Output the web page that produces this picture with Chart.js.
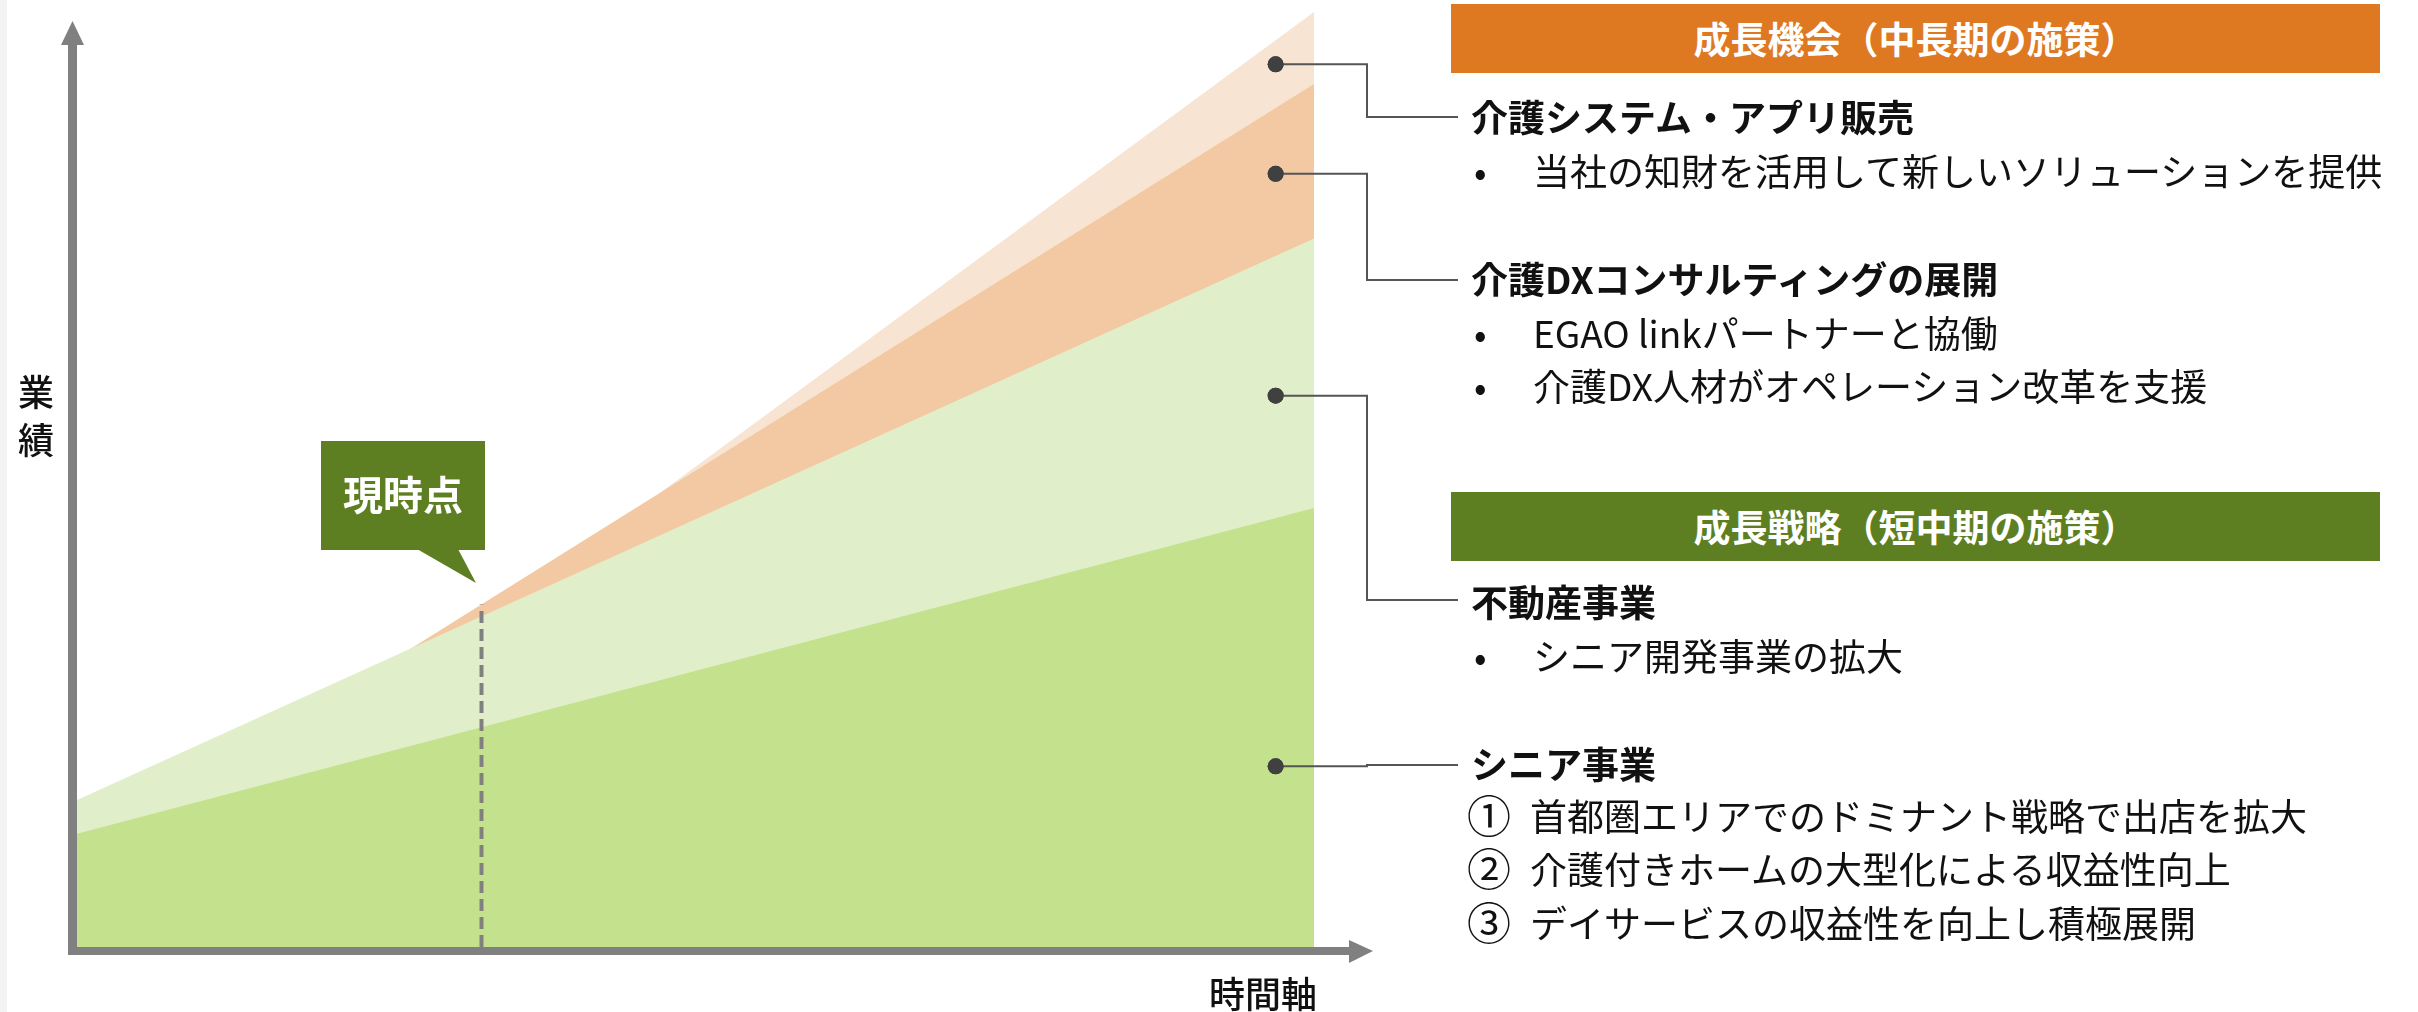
<!DOCTYPE html>
<html lang="ja">
<head>
<meta charset="utf-8">
<script src="https://cdn.jsdelivr.net/npm/chart.js@4.4.0/dist/chart.umd.min.js"></script>
<style>
  body { margin: 0; background: #fff; font-family: "Noto Sans CJK JP", sans-serif; }
  #wrap { position: relative; width: 2418px; height: 1012px; overflow: hidden; background: #fff; }
  #myChart { position: absolute; left: 0; top: 0; }
  .strip { position: absolute; left: 0; top: 0; width: 7px; height: 1012px; background: #f3f3f3; }
  .t { position: absolute; white-space: nowrap; color: #111; font-size: 37px; line-height: 40px; }
  .b { font-weight: 700; }
  .num { font-size: 44px; line-height: 44px; }
  .head { position: absolute; left: 1451px; width: 929px; height: 69px; line-height: 69px;
          text-align: center; color: #fff; font-weight: 700; font-size: 37px; }
  .axislbl { position: absolute; color: #111; font-size: 36px; font-weight: 500; white-space: nowrap; }
</style>
</head>
<body>
<div id="wrap">
  <div class="strip"></div>
  <canvas id="myChart" width="2418" height="1012"></canvas>

  <div class="axislbl" style="left:18px; top:366px; line-height:48px;">業<br>績</div>
  <div class="axislbl" style="left:1209px; top:972px; line-height:40px;">時間軸</div>
  <div style="position:absolute; left:321px; top:439px; width:164px; height:109px; line-height:109px; text-align:center; color:#fff; font-weight:700; font-size:40px;">現時点</div>

  <div class="head" style="top:4px; background:#DE7821;">成長機会（中長期の施策）</div>
  <div class="t b" style="left:1471px; top:96px;">介護システム・アプリ販売</div>
  <div class="t" style="left:1474px; top:150px;">•</div>
  <div class="t" style="left:1533px; top:150px;">当社の知財を活用して新しいソリューションを提供</div>
  <div class="t b" style="left:1471px; top:258px;">介護DXコンサルティングの展開</div>
  <div class="t" style="left:1474px; top:312px;">•</div>
  <div class="t" style="left:1533px; top:312px;">EGAO linkパートナーと協働</div>
  <div class="t" style="left:1474px; top:365px;">•</div>
  <div class="t" style="left:1533px; top:365px;">介護DX人材がオペレーション改革を支援</div>

  <div class="head" style="top:492px; background:#5E7F21;">成長戦略（短中期の施策）</div>
  <div class="t b" style="left:1471px; top:581px;">不動産事業</div>
  <div class="t" style="left:1474px; top:635px;">•</div>
  <div class="t" style="left:1533px; top:635px;">シニア開発事業の拡大</div>
  <div class="t b" style="left:1471px; top:743px;">シニア事業</div>
  <div class="t num" style="left:1467px; top:792px;">①</div>
  <div class="t" style="left:1530px; top:795px;">首都圏エリアでのドミナント戦略で出店を拡大</div>
  <div class="t num" style="left:1467px; top:845px;">②</div>
  <div class="t" style="left:1530px; top:848px;">介護付きホームの大型化による収益性向上</div>
  <div class="t num" style="left:1467px; top:899px;">③</div>
  <div class="t" style="left:1530px; top:902px;">デイサービスの収益性を向上し積極展開</div>
</div>

<script>
// 時間軸 (0-100) と 業績 (0-100) の相対値
var timeRange = [0, 100];
var perfRange = [0, 100];

// シニア事業
var seniorX = [0, 100];
var seniorY = [12.1, 46.9];
// 不動産事業
var realEstateX = [0, 100];
var realEstateY = [15.7, 75.7];
// 介護DXコンサルティング
var dxX = [26.9, 100];
var dxY = [31.8, 92.2];
// 介護システム・アプリ販売
var appX = [47, 100];
var appY = [48.4, 99.9];

// 現時点
var nowX = [32.7, 32.7];
var nowY = [0, 36.6];

// 各レイヤーの丸マーカー
var markerLabels = ["介護システム・アプリ販売", "介護DXコンサルティングの展開", "不動産事業", "シニア事業"];
var markerX = [96.9, 96.9, 96.9, 96.9];
var markerY = [94.3, 82.6, 58.9, 19.3];

function toPoints(xs, ys) {
  return xs.map(function (x, i) {
    return { x: x, y: ys[i] };
  });
}

// axis arrows, callout box, connector lines
const decorations = {
  id: "decorations",
  beforeDatasetsDraw(chart) {
    const { ctx, chartArea } = chart;
    ctx.save();
    ctx.fillStyle = "#808080";
    // y axis
    ctx.fillRect(68, 44, 9, chartArea.bottom + 8 - 44);
    ctx.beginPath();
    ctx.moveTo(72.5, 21);
    ctx.lineTo(84, 45);
    ctx.lineTo(61, 45);
    ctx.closePath();
    ctx.fill();
    ctx.restore();
  },
  afterDatasetsDraw(chart) {
    const { ctx, chartArea } = chart;
    ctx.save();
    // x axis
    ctx.fillStyle = "#808080";
    ctx.fillRect(68, chartArea.bottom, 1349 - 68, 8);
    ctx.beginPath();
    ctx.moveTo(1349, chartArea.bottom - 7);
    ctx.lineTo(1373, chartArea.bottom + 4);
    ctx.lineTo(1349, chartArea.bottom + 16);
    ctx.closePath();
    ctx.fill();

    // callout
    ctx.fillStyle = "#5E7F21";
    ctx.fillRect(321, 441, 164, 109);
    ctx.beginPath();
    ctx.moveTo(417, 549);
    ctx.lineTo(458, 549);
    ctx.lineTo(476, 583);
    ctx.closePath();
    ctx.fill();

    // connectors
    const rows = [117, 280, 600, 765];
    const meta = chart.getDatasetMeta(0);
    ctx.strokeStyle = "#555555";
    ctx.lineWidth = 2;
    meta.data.forEach((pt, i) => {
      ctx.beginPath();
      ctx.moveTo(pt.x, pt.y);
      ctx.lineTo(1367, pt.y);
      ctx.lineTo(1367, rows[i]);
      ctx.lineTo(1458, rows[i]);
      ctx.stroke();
    });
    // redraw dots over line start
    ctx.fillStyle = "#404040";
    meta.data.forEach((pt) => {
      ctx.beginPath();
      ctx.arc(pt.x, pt.y, 8, 0, Math.PI * 2);
      ctx.fill();
    });
    ctx.restore();
  },
};

const ctx = document.getElementById("myChart");

const config = {
  type: "line",
  data: {
    datasets: [
      {
        label: "marker",
        type: "scatter",
        data: toPoints(markerX, markerY),
        showLine: false,
        pointRadius: 8,
        pointBackgroundColor: "#404040",
        pointBorderWidth: 0,
      },
      {
        label: "現時点",
        data: toPoints(nowX, nowY),
        borderColor: "#808080",
        borderWidth: 4,
        borderDash: [12, 6],
        pointRadius: 0,
        fill: false,
      },
      {
        label: "シニア事業",
        data: toPoints(seniorX, seniorY),
        backgroundColor: "#C4E28D",
        borderWidth: 0,
        pointRadius: 0,
        fill: "origin",
      },
      {
        label: "不動産事業",
        data: toPoints(realEstateX, realEstateY),
        backgroundColor: "#E0EFCA",
        borderWidth: 0,
        pointRadius: 0,
        fill: "origin",
      },
      {
        label: "介護DXコンサルティングの展開",
        data: toPoints(dxX, dxY),
        backgroundColor: "#F3C9A4",
        borderWidth: 0,
        pointRadius: 0,
        fill: "origin",
      },
      {
        label: "介護システム・アプリ販売",
        data: toPoints(appX, appY),
        backgroundColor: "#F8E4D3",
        borderWidth: 0,
        pointRadius: 0,
        fill: "origin",
      },
    ],
  },
  options: {
    responsive: false,
    animation: false,
    layout: { padding: { left: 77, right: 1104, top: 11, bottom: 65 } },
    scales: {
      x: { type: "linear", min: timeRange[0], max: timeRange[1], display: false },
      y: { min: perfRange[0], max: perfRange[1], display: false },
    },
    plugins: {
      legend: { display: false },
      tooltip: { enabled: false },
    },
  },
  plugins: [decorations],
};

var chart = new Chart(ctx, config);
</script>
</body>
</html>
